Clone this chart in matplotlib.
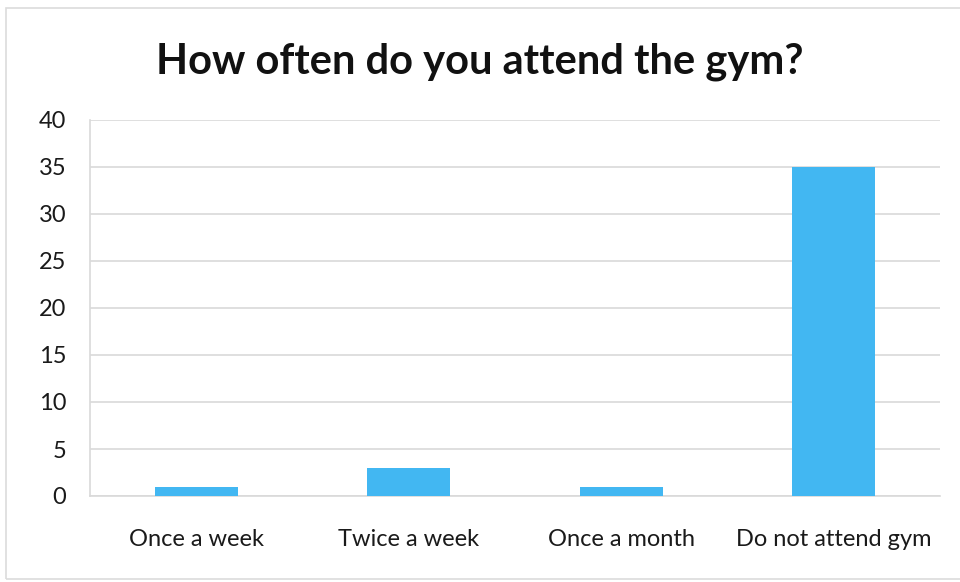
import matplotlib.pyplot as plt
from matplotlib.patches import Rectangle

categories = ["Once a week", "Twice a week", "Once a month", "Do not attend gym"]
counts = [1, 3, 1, 35]

bar_color = "#42b7f2"
grid_color = "#d9d9d9"

plt.rcParams["font.family"] = ["Lato", "DejaVu Sans"]

fig = plt.figure(figsize=(9.6, 5.82), dpi=100)
ax = fig.add_axes([90 / 960, 1 - 496 / 582, 850 / 960, 376 / 582])

x = range(len(categories))
ax.bar(x, counts, width=0.39, color=bar_color, zorder=3)

ax.set_xlim(-0.5, len(categories) - 0.5)
ax.set_ylim(0, 40)
ax.set_yticks(range(0, 41, 5))
ax.set_xticks(list(x))
ax.set_xticklabels(categories)

ax.yaxis.grid(True, color=grid_color, linewidth=1.2, zorder=0)
ax.set_axisbelow(True)
for side in ("top", "right"):
    ax.spines[side].set_visible(False)
ax.spines["left"].set_color(grid_color)
ax.spines["bottom"].set_color(grid_color)
ax.spines["left"].set_linewidth(1.2)
ax.spines["bottom"].set_linewidth(1.2)

ax.tick_params(axis="both", length=0, labelsize=17, colors="#1a1a1a")
ax.tick_params(axis="y", pad=17)
ax.tick_params(axis="x", pad=24)

fig.text(0.5, 1 - 62 / 582, "How often do you attend the gym?",
         ha="center", va="center", fontsize=30, fontweight="bold", color="#111111")

# faint frame around the whole chart
fig.patches.append(Rectangle((6 / 960, 0.005), 1.0, 1 - 8 / 582 - 0.005,
                             transform=fig.transFigure, fill=False,
                             edgecolor="#dcdcdc", linewidth=1.2))

fig.savefig("out.png", dpi=100)
